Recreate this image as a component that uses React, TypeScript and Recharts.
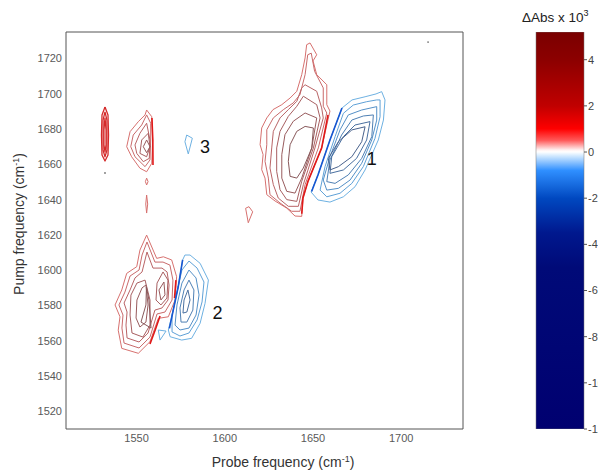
import { ScatterChart, Scatter, XAxis, YAxis, ReferenceArea, BarChart, Bar } from 'recharts'

type Pt = [number, number]

const FREQ_DOMAIN: [number, number] = [1510, 1735]
const X_TICKS = [1550, 1600, 1650, 1700]
const Y_TICKS = [1520, 1540, 1560, 1580, 1600, 1620, 1640, 1660, 1680, 1700, 1720]

const CB_TICKS = [4, 2, 0, -2, -4, -6, -8, -10, -12]
const CB_RANGE: [number, number] = [-12, 5.2]

// contour levels, outermost first
const RED_RAMP = ['#d7716f', '#c96a6b', '#b96466', '#a85f61', '#985b5d', '#88585a', '#7b5557']
const BLUE_RAMP = ['#6eb1e2', '#5fa1d7', '#5490c7', '#4e80b4', '#4a70a0', '#49628c', '#48587c']

// cross peak 1, positive lobe
const PEAK1_RED: Pt[][] = [
  [[1648.3, 1728.8], [1652.1, 1722.1], [1650, 1718.6], [1652.1, 1710.8], [1657.8, 1705.1], [1657.8, 1693.8], [1659.6, 1690.2], [1654.9, 1669.3], [1647.2, 1650.5], [1644.3, 1640.9], [1643.6, 1630.5], [1639.8, 1630.7], [1635.1, 1635.2], [1628.5, 1639.2], [1623.8, 1642.8], [1622.8, 1652.2], [1620.9, 1657], [1621.7, 1665.5], [1620, 1671.1], [1620.9, 1680.6], [1623.8, 1686.3], [1627.3, 1691], [1632.3, 1693.8], [1637, 1697.6], [1640.8, 1701.4], [1643.6, 1710.8], [1645.5, 1720.3], [1646.4, 1727.8]],
  [[1649, 1723], [1650.9, 1712.7], [1655.8, 1703.3], [1655.8, 1692.9], [1657.8, 1689.1], [1653, 1669.3], [1645.5, 1648.5], [1642.6, 1633.4], [1637.9, 1633.4], [1631.3, 1638.1], [1625.6, 1642.8], [1624.7, 1652.2], [1622.8, 1661.7], [1623.8, 1671.1], [1623.8, 1679.6], [1627.5, 1686.3], [1633.2, 1691], [1638.8, 1694.8], [1642.6, 1699.5], [1645.5, 1710.8], [1647, 1722.1]],
  [[1645.5, 1705.1], [1652.1, 1701.4], [1654.9, 1692], [1655.8, 1686.3], [1651.1, 1669.3], [1644.5, 1648.5], [1641.7, 1636.2], [1636, 1636.2], [1630.3, 1640.9], [1627.5, 1648.5], [1625.6, 1657.9], [1626.6, 1669.3], [1627.5, 1678.7], [1631.3, 1686.3], [1636, 1691], [1640.8, 1695.7], [1643.6, 1703.3]],
  [[1644.5, 1698.6], [1652.1, 1693.8], [1654, 1686.3], [1650.2, 1669.3], [1643.6, 1650.4], [1640.8, 1639], [1635.1, 1640], [1631.3, 1645.6], [1629.4, 1656], [1629.4, 1669.3], [1631.3, 1678.7], [1636, 1687.2], [1640.8, 1692.9]],
  [[1645.5, 1689.1], [1652.1, 1686.3], [1649.3, 1669.3], [1643.6, 1652.2], [1639.8, 1643.7], [1635.1, 1644.7], [1632.3, 1652.2], [1632.3, 1665.5], [1634.1, 1676.8], [1638.8, 1684.4]],
  [[1645.5, 1681.5], [1650.2, 1680.6], [1649.3, 1669.3], [1644.5, 1657.9], [1640.8, 1652.2], [1637, 1653.2], [1636, 1661.7], [1637, 1671.1], [1640.8, 1678.7]],
]

// cross peak 1, negative lobe
const PEAK1_BLUE: Pt[][] = [
  [[1688.9, 1701.2], [1690.8, 1696.5], [1689.9, 1685.1], [1687, 1673.8], [1679.5, 1656.8], [1673.8, 1647.3], [1667.2, 1641.6], [1659.6, 1638.6], [1652.8, 1639.8], [1648.9, 1644.3], [1652.8, 1654], [1659.6, 1673.8], [1666.4, 1691.9], [1672.1, 1696.5], [1679.5, 1698.3], [1685.7, 1699.9]],
  [[1688, 1696.5], [1688, 1687], [1685.1, 1674.7], [1678.5, 1658.7], [1672, 1649.2], [1665.3, 1643.6], [1657.8, 1641.6], [1654, 1645.4], [1656.8, 1658.7], [1662.5, 1675.7], [1667.2, 1688.9], [1672.8, 1693.6], [1680.4, 1695.5], [1686.1, 1696.5]],
  [[1686.1, 1692.7], [1686.1, 1685.1], [1683.3, 1673.8], [1677.6, 1660.6], [1671, 1651.1], [1664.4, 1646.4], [1657.8, 1645.4], [1655.8, 1651.1], [1659.6, 1664.3], [1665.3, 1679.5], [1670, 1688], [1677.6, 1690.8]],
  [[1684.2, 1688], [1683.3, 1675.7], [1677.6, 1663.4], [1670, 1654], [1662.5, 1649.2], [1657.8, 1650.2], [1659.6, 1662.5], [1666.2, 1676.6], [1672, 1685.1], [1678.5, 1687.4]],
  [[1682.3, 1684.2], [1680.4, 1673.8], [1674.7, 1663.4], [1667.2, 1656.8], [1659.6, 1654.9], [1660.6, 1664.3], [1667.2, 1675.7], [1673.8, 1682.3]],
  [[1679.5, 1681.3], [1677.6, 1672.8], [1672, 1664.3], [1664.4, 1658.7], [1659.6, 1656.8], [1658.7, 1663.4], [1664.4, 1672.8], [1672, 1679.5]],
]

// cross peak 2, positive lobe (outer rings, then left and right inner lobes)
const PEAK2_RED: Pt[][] = [
  [[1555.7, 1619.9], [1561.4, 1606.7], [1565.2, 1607.6], [1569.9, 1605.8], [1572.7, 1596.3], [1571.8, 1583.1], [1568, 1573.6], [1562.3, 1572.7], [1557.6, 1559.5], [1551, 1552.9], [1541.6, 1555.7], [1539.6, 1566], [1540.6, 1573.6], [1537.8, 1580.3], [1541.6, 1588.8], [1544.4, 1598.2], [1550.1, 1602], [1551.9, 1611.4]],
  [[1555.9, 1616], [1560.4, 1604.6], [1565, 1604.6], [1568.9, 1602.9], [1570.6, 1594.4], [1570.1, 1583.1], [1566.1, 1576.3], [1561.6, 1575.2], [1557.6, 1562.1], [1551.4, 1555.9], [1542.9, 1558.7], [1541.7, 1567.2], [1542.3, 1574.6], [1540, 1580.3], [1543.4, 1587.6], [1546.3, 1596.7], [1551.4, 1600.1], [1553.1, 1608.6]],
  [[1555.9, 1610.3], [1559.3, 1601.2], [1564.4, 1601.2], [1567.3, 1599], [1568.4, 1591.6], [1567.8, 1583.1], [1564.4, 1578.6], [1560.4, 1577.4], [1556.5, 1564.4], [1551.4, 1559.3], [1544.6, 1561.6], [1544, 1568.9], [1544.6, 1576.3], [1542.9, 1581.4], [1546.3, 1588.8], [1549.1, 1595.6], [1553.1, 1599]],
  [[1554.8, 1594.4], [1557.6, 1583.1], [1557.6, 1568.9], [1553.6, 1562.1], [1547.4, 1564.4], [1546.3, 1574.6], [1546.8, 1585.9], [1550.2, 1592.7]],
  [[1555.3, 1591.6], [1556.5, 1580.3], [1555.3, 1570.6], [1551.9, 1567.8], [1549.7, 1572.9], [1550.2, 1583.1], [1553.1, 1590]],
  [[1555.6, 1590.5], [1557, 1583.1], [1558.2, 1567.2], [1552.5, 1570.6], [1555.3, 1580.3]],
]
const PEAK2_RED_LOBE: Pt[][] = [
  [[1565, 1599], [1567.8, 1594.4], [1567.2, 1584.2], [1563.8, 1580.3], [1561, 1583.1], [1561.6, 1592.7]],
  [[1565.5, 1593.3], [1566.1, 1586], [1563.8, 1583.1], [1562.7, 1588.8]],
]

// cross peak 2, negative lobe
const PEAK2_BLUE: Pt[][] = [
  [[1580.3, 1608.6], [1586, 1603.9], [1590.7, 1594.4], [1588.8, 1581.2], [1586, 1569.9], [1581.2, 1561.4], [1575.6, 1560.4], [1569, 1562.3], [1568, 1566.1], [1570.8, 1577.4], [1573.6, 1590.6], [1576.1, 1605.8], [1577.4, 1608.6]],
  [[1579.7, 1605.2], [1584.3, 1601.2], [1588.2, 1593.3], [1587.1, 1582], [1584.3, 1571.8], [1579.7, 1564.4], [1574.6, 1562.7], [1570.1, 1565], [1570.1, 1574.6], [1572.9, 1587.6], [1575.7, 1600.1]],
  [[1579.7, 1600.1], [1583.7, 1595.6], [1585.4, 1586], [1583.7, 1574.6], [1579.7, 1567.2], [1574.6, 1566.1], [1571.8, 1568.9], [1572.9, 1580.3], [1575.7, 1592.7]],
  [[1579.7, 1594.4], [1582.5, 1588.8], [1581.9, 1577.4], [1578.5, 1570.6], [1575.2, 1570.6], [1574.6, 1578.6], [1576.9, 1588.8]],
  [[1579.1, 1588.8], [1580.3, 1583.1], [1578.5, 1576.3], [1576.3, 1575.7], [1576.9, 1583.1]],
]
const PEAK2_BLUE_SMALL: Pt[] = [[1562.3, 1566.1], [1566.7, 1565.5], [1563.3, 1560.4]]

// diagonal features at 1532 and 1555
const DIAG_1532: Pt[][] = [
  [[1532.1, 1692.5], [1533.8, 1688], [1534.1, 1676.6], [1533.8, 1665.3], [1532.1, 1661.9], [1530.4, 1665.3], [1530.1, 1676.6], [1530.4, 1688]],
  [[1532.1, 1689.7], [1533.2, 1685.1], [1533.2, 1668.1], [1532.1, 1664.2], [1531, 1668.1], [1531, 1685.1]],
  [[1532.1, 1686.3], [1532.7, 1679.5], [1532.7, 1671], [1532.1, 1667], [1531.5, 1671], [1531.5, 1679.5]],
]
const DIAG_1555: Pt[][] = [
  [[1555.7, 1690.8], [1558.6, 1687], [1559.1, 1673.8], [1558.6, 1660.6], [1555.7, 1655.8], [1551.9, 1657.8], [1547.2, 1664.3], [1544.4, 1670], [1546.3, 1678.5], [1551, 1684.2], [1554.8, 1688]],
  [[1555.7, 1688], [1558, 1683.3], [1558, 1673.8], [1557.6, 1662.5], [1554.8, 1658.7], [1549.1, 1664.3], [1546.7, 1670], [1548.1, 1676.6], [1552.9, 1682.3]],
  [[1555.7, 1683.3], [1557.6, 1673.8], [1557.2, 1663.4], [1553.8, 1661.5], [1550.1, 1666.2], [1549.1, 1671], [1551.9, 1677.6]],
  [[1556.6, 1677.6], [1557.6, 1670], [1555.7, 1664.3], [1551.9, 1666.2], [1552.9, 1673.8]],
  [[1555.7, 1673.8], [1557.6, 1670], [1555.7, 1666.6], [1553.8, 1670]],
]
const SMALL_RED: Pt[][] = [
  [[1555.7, 1652.2], [1556.5, 1650.2], [1555.7, 1648.3], [1555, 1650.2]],
  [[1555.7, 1642.6], [1556.3, 1637.5], [1555.7, 1632.4], [1555.2, 1637.5]],
  [[1613.7, 1636], [1615.8, 1633.1], [1613.3, 1626.9], [1611.8, 1635.1]],
]
const SMALL_BLUE: Pt[] = [[1578.4, 1676.6], [1581.6, 1674.8], [1579.3, 1665.9], [1577.4, 1672.8]]

// bunched zero-crossing edges
const RED_NODES: Pt[][] = [
  [[1658.5, 1688], [1654.9, 1669.3], [1647.2, 1650.5], [1644.3, 1640.9], [1643.6, 1632]],
  [[1572.3, 1594.4], [1571.5, 1584.2]],
  [[1563.3, 1574], [1560.5, 1566], [1557.6, 1558.2]],
  [[1558.7, 1686.3], [1559.2, 1673.8], [1559.3, 1659.6]],
]
const BLUE_NODES: Pt[][] = [
  [[1666.4, 1691.9], [1659.6, 1673.8], [1652.8, 1654], [1649.2, 1644.6]],
  [[1576.1, 1605.8], [1573.6, 1590.6], [1570.8, 1577.4], [1568.6, 1567]],
]

const PEAK_LABELS = [
  { x: 1683.3, y: 1663, text: '1' },
  { x: 1595.8, y: 1575.6, text: '2' },
  { x: 1588.8, y: 1670, text: '3' },
]
const SPECKS: Pt[] = [[1715.2, 1729.3], [1532.1, 1655.1]]

const FONT = '"Liberation Sans", Arial, Helvetica, sans-serif'

const ring = (c: Pt[]) => [...c, c[0]].map(([x, y]) => ({ x, y }))
const path = (c: Pt[]) => c.map(([x, y]) => ({ x, y }))

const NoDot = () => <g />

type Layer = { pts: { x: number; y: number }[]; color: string; w: number }

const layers: Layer[] = [
  ...PEAK1_RED.map((c, i) => ({ pts: ring(c), color: RED_RAMP[i], w: 1 })),
  ...PEAK1_BLUE.map((c, i) => ({ pts: ring(c), color: BLUE_RAMP[i], w: 1 })),
  ...PEAK2_RED.map((c, i) => ({ pts: ring(c), color: RED_RAMP[i], w: 1 })),
  ...PEAK2_RED_LOBE.map((c, i) => ({ pts: ring(c), color: RED_RAMP[i + 3], w: 1 })),
  ...PEAK2_BLUE.map((c, i) => ({ pts: ring(c), color: BLUE_RAMP[i], w: 1 })),
  { pts: ring(PEAK2_BLUE_SMALL), color: BLUE_RAMP[0], w: 1 },
  ...DIAG_1532.map((c) => ({ pts: ring(c), color: '#d42a2a', w: 1.3 })),
  ...DIAG_1555.map((c, i) => ({ pts: ring(c), color: RED_RAMP[i], w: 1 })),
  ...SMALL_RED.map((c) => ({ pts: ring(c), color: RED_RAMP[0], w: 1 })),
  { pts: ring(SMALL_BLUE), color: BLUE_RAMP[0], w: 1 },
  ...RED_NODES.map((c) => ({ pts: path(c), color: '#e01818', w: 1.6 })),
  ...BLUE_NODES.map((c) => ({ pts: path(c), color: '#1656d0', w: 1.6 })),
]

const tickStyle = { fill: '#595959', fontSize: 11, fontFamily: FONT }

export default function App() {
  return (
    <div style={{ position: 'absolute', left: 0, top: 0, width: 598, height: 471, background: '#fff', fontFamily: FONT }}>
      <div style={{ position: 'absolute', left: 0, top: 0 }}>
        <ScatterChart width={598} height={471} margin={{ top: 32, right: 135, bottom: 18, left: 26 }}>
          <XAxis
            type="number"
            dataKey="x"
            domain={FREQ_DOMAIN}
            allowDataOverflow
            ticks={X_TICKS}
            height={24}
            tickLine={false}
            tickSize={0}
            tickMargin={5}
            axisLine={false}
            tick={tickStyle}
          />
          <XAxis xAxisId="bi" type="number" dataKey="x" domain={FREQ_DOMAIN} allowDataOverflow ticks={X_TICKS}
            mirror height={0} tick={false} tickSize={4} tickLine={{ stroke: '#555' }} axisLine={false} />
          <XAxis xAxisId="t" orientation="top" type="number" dataKey="x" domain={FREQ_DOMAIN} allowDataOverflow ticks={X_TICKS}
            mirror height={0} tick={false} tickSize={4} tickLine={{ stroke: '#555' }} axisLine={false} />
          <YAxis
            type="number"
            dataKey="y"
            domain={FREQ_DOMAIN}
            allowDataOverflow
            ticks={Y_TICKS}
            width={40}
            tickLine={false}
            tickSize={0}
            tickMargin={4}
            axisLine={false}
            tick={tickStyle}
          />
          <YAxis yAxisId="li" type="number" dataKey="y" domain={FREQ_DOMAIN} allowDataOverflow ticks={Y_TICKS}
            mirror width={0} tick={false} tickSize={4} tickLine={{ stroke: '#555' }} axisLine={false} />
          <YAxis yAxisId="r" orientation="right" type="number" dataKey="y" domain={FREQ_DOMAIN} allowDataOverflow ticks={Y_TICKS}
            mirror width={0} tick={false} tickSize={4} tickLine={{ stroke: '#555' }} axisLine={false} />
          <ReferenceArea x1={FREQ_DOMAIN[0]} x2={FREQ_DOMAIN[1]} y1={FREQ_DOMAIN[0]} y2={FREQ_DOMAIN[1]}
            fill="none" fillOpacity={0} stroke="#555" strokeWidth={1} ifOverflow="visible" />
          {layers.map((l, i) => (
            <Scatter
              key={i}
              data={l.pts}
              fill={l.color}
              line={{ stroke: l.color, strokeWidth: l.w, strokeLinejoin: 'round' }}
              lineType="joint"
              shape={NoDot}
              isAnimationActive={false}
            />
          ))}
          <Scatter
            data={SPECKS.map(([x, y]) => ({ x, y }))}
            shape={(p: any) => <circle cx={p.cx} cy={p.cy} r={0.9} fill="#777" />}
            isAnimationActive={false}
          />
          <Scatter
            data={PEAK_LABELS}
            shape={(p: any) => (
              <text x={p.cx} y={p.cy} textAnchor="middle" dominantBaseline="central" fontSize={18} fontFamily={FONT} fill="#111">
                {p.payload.text}
              </text>
            )}
            isAnimationActive={false}
          />
        </ScatterChart>
      </div>

      <div style={{ position: 'absolute', left: 520, top: 0 }}>
        <BarChart width={78} height={471} data={[{ k: 'cb', v: CB_RANGE }]} margin={{ top: 32, right: 0, bottom: 42, left: 16 }}
          barCategoryGap={0} barGap={0}>
          <defs>
            <linearGradient id="cbGrad" x1="0" y1="0" x2="0" y2="1">
              <stop offset="0" stopColor="#7a0000" />
              <stop offset="0.07" stopColor="#8c0000" />
              <stop offset="0.186" stopColor="#c00000" />
              <stop offset="0.244" stopColor="#ff0000" />
              <stop offset="0.273" stopColor="#ff5a5a" />
              <stop offset="0.297" stopColor="#fff0f0" />
              <stop offset="0.302" stopColor="#ffffff" />
              <stop offset="0.314" stopColor="#c8e4ff" />
              <stop offset="0.349" stopColor="#2f8fff" />
              <stop offset="0.419" stopColor="#0048c0" />
              <stop offset="0.506" stopColor="#00188e" />
              <stop offset="0.593" stopColor="#000a78" />
              <stop offset="1" stopColor="#000070" />
            </linearGradient>
          </defs>
          <XAxis dataKey="k" hide />
          <YAxis
            orientation="right"
            type="number"
            domain={CB_RANGE}
            allowDataOverflow
            ticks={CB_TICKS}
            width={14}
            axisLine={false}
            tickLine={{ stroke: '#555' }}
            tickSize={3}
            tickMargin={1}
            tick={{ fill: '#444', fontSize: 11, fontFamily: FONT, textAnchor: 'start' }}
            interval={0}
          />
          <Bar dataKey="v" fill="url(#cbGrad)" stroke="#777" strokeWidth={0.5} isAnimationActive={false} />
        </BarChart>
      </div>

      <div style={{ position: 'absolute', left: 522, top: 8, fontSize: 13.5, color: '#222', whiteSpace: 'nowrap' }}>
        ΔAbs x 10<span style={{ fontSize: 9, verticalAlign: 'super' }}>3</span>
      </div>
      <div style={{ position: 'absolute', left: 283, top: 462, transform: 'translate(-50%, -50%)', fontSize: 14, color: '#333', whiteSpace: 'nowrap' }}>
        Probe frequency (cm<span style={{ fontSize: 9, verticalAlign: 'super' }}>-1</span>)
      </div>
      <div style={{ position: 'absolute', left: 19, top: 224, transform: 'translate(-50%, -50%) rotate(-90deg)', fontSize: 14, color: '#333', whiteSpace: 'nowrap' }}>
        Pump frequency (cm<span style={{ fontSize: 9, verticalAlign: 'super' }}>-1</span>)
      </div>
    </div>
  )
}
